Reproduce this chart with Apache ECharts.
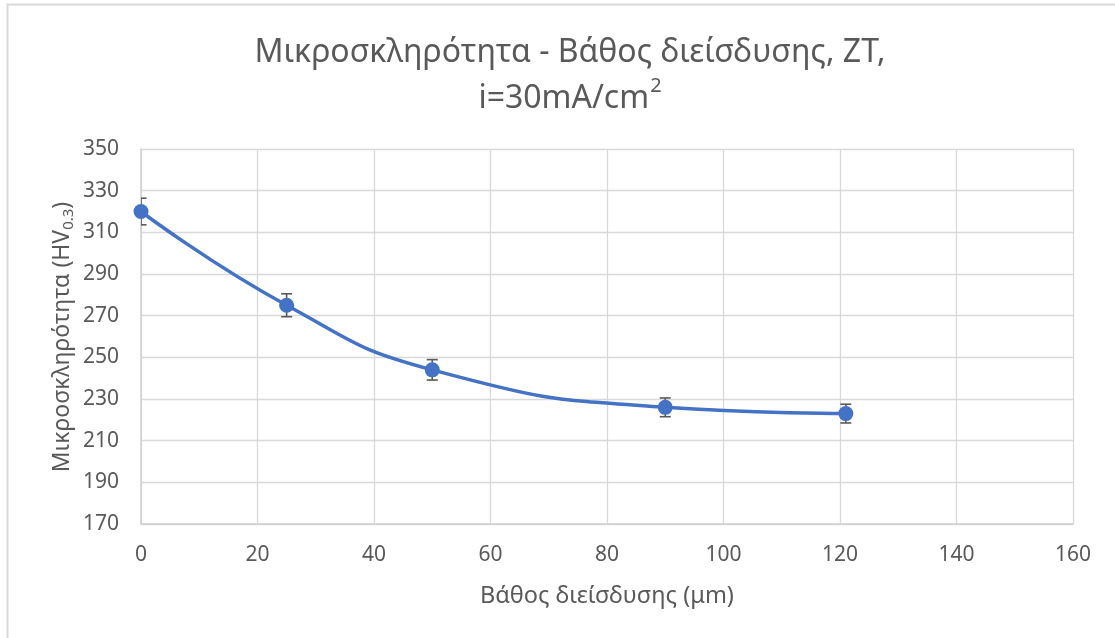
<!DOCTYPE html>
<html>
<head>
<meta charset="utf-8">
<script src="https://cdn.jsdelivr.net/npm/echarts@6/dist/echarts.min.js"></script>
<style>
  html, body { margin: 0; padding: 0; background: #ffffff; }
  #chart { width: 1115px; height: 638px; }
</style>
</head>
<body>
<div id="chart"></div>
<script>
// Penetration depth (μm) and microhardness (HV0.3) with ± error
const depths = [0, 25, 50, 90, 121];
const hardness = [320, 275, 244, 226, 223];
const errors = [6.4, 5.5, 4.9, 4.5, 4.5];
const xTicks = { min: 0, max: 160, step: 20 };
const yTicks = { min: 170, max: 350, step: 20 };

const FONT = '"Noto Sans", sans-serif';
const TEXT = '#595959';
const BLUE = '#4472C4';

const points = depths.map((d, i) => [d, hardness[i]]);
const bars = depths.map((d, i) => [d, hardness[i] - errors[i], hardness[i] + errors[i]]);

const chart = echarts.init(document.getElementById('chart'), null, { renderer: 'canvas' });

chart.setOption({
  backgroundColor: '#ffffff',
  animation: false,
  graphic: [
    {
      type: 'rect',
      shape: { x: 7.5, y: 4.5, width: 1200, height: 800 },
      style: { fill: 'none', stroke: '#d9d9d9', lineWidth: 2 },
      silent: true
    },
    {
      // vertical axis title, with subscript load designation
      type: 'text',
      x: 62,
      y: 337,
      rotation: Math.PI / 2,
      silent: true,
      style: {
        text: 'Μικροσκληρότητα (HV{sub|0.3})',
        fontFamily: FONT,
        fontSize: 23,
        fill: TEXT,
        align: 'center',
        verticalAlign: 'middle',
        rich: { sub: { fontFamily: FONT, fontSize: 15, fill: TEXT, padding: [13, 0, 0, 0] } }
      }
    }
  ],
  title: {
    text: 'Μικροσκληρότητα - Βάθος διείσδυσης, ZT,\ni=30mA/cm{sup|2}',
    left: 565,
    top: 25,
    textAlign: 'center',
    textStyle: {
      fontFamily: FONT,
      fontSize: 32,
      fontWeight: 'normal',
      color: TEXT,
      lineHeight: 46,
      rich: {
        sup: { fontFamily: FONT, fontSize: 20, color: TEXT, verticalAlign: 'top', padding: [0, 0, 17, 1] }
      }
    }
  },
  grid: { left: 141, right: 42, top: 149, bottom: 114, containLabel: false },
  xAxis: {
    type: 'value',
    min: xTicks.min,
    max: xTicks.max,
    interval: xTicks.step,
    name: 'Βάθος διείσδυσης (μm)',
    nameLocation: 'middle',
    nameGap: 60,
    nameTextStyle: { fontFamily: FONT, fontSize: 23.5, color: TEXT },
    axisLine: { show: true, lineStyle: { color: '#d0d0d0', width: 1.5 } },
    axisTick: { show: false },
    axisLabel: { fontFamily: FONT, fontSize: 21, color: TEXT, margin: 21 },
    splitLine: { show: true, lineStyle: { color: '#d9d9d9', width: 1.3 } }
  },
  yAxis: {
    type: 'value',
    min: yTicks.min,
    max: yTicks.max,
    interval: yTicks.step,
    axisLine: { show: true, lineStyle: { color: '#d0d0d0', width: 1.5 } },
    axisTick: { show: false },
    axisLabel: { fontFamily: FONT, fontSize: 21, color: TEXT, margin: 22 },
    splitLine: { show: true, lineStyle: { color: '#d9d9d9', width: 1.3 } }
  },
  series: [
    {
      type: 'custom',
      name: 'error',
      data: bars,
      clip: true,
      z: 2,
      renderItem: function (params, api) {
        const x = api.value(0);
        const lo = api.coord([x, api.value(1)]);
        const hi = api.coord([x, api.value(2)]);
        const half = 5.5;
        const style = { stroke: '#595959', lineWidth: 1.6, fill: 'none' };
        return {
          type: 'group',
          children: [
            { type: 'line', shape: { x1: lo[0], y1: lo[1], x2: hi[0], y2: hi[1] }, style },
            { type: 'line', shape: { x1: lo[0] - half, y1: lo[1], x2: lo[0] + half, y2: lo[1] }, style },
            { type: 'line', shape: { x1: hi[0] - half, y1: hi[1], x2: hi[0] + half, y2: hi[1] }, style }
          ]
        };
      }
    },
    {
      type: 'line',
      name: 'HV',
      data: points,
      smooth: 0.5,
      symbol: 'circle',
      symbolSize: 15,
      z: 3,
      lineStyle: { color: BLUE, width: 3.5 },
      itemStyle: { color: BLUE, borderWidth: 0 }
    }
  ]
});
</script>
</body>
</html>
